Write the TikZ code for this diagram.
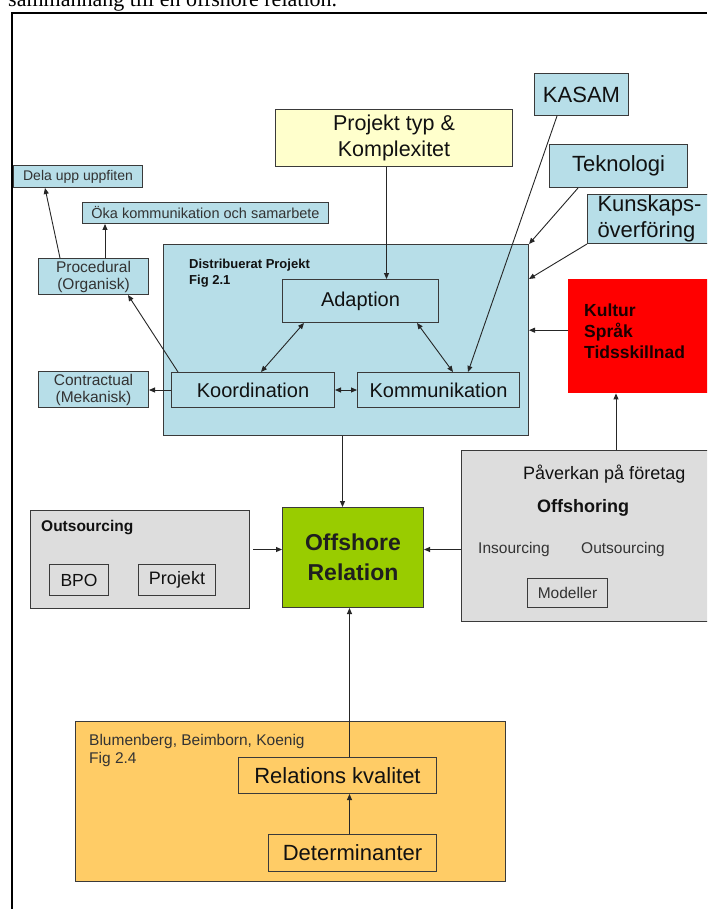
\documentclass[tikz,border=0pt]{standalone}
\usepackage{fontspec}
\setmainfont{Liberation Sans}
\newfontfamily\captionserif{Liberation Serif}
\usetikzlibrary{arrows.meta,calc}
\definecolor{lblue}{HTML}{B7DEE8}
\definecolor{lyellow}{HTML}{FFFFCC}
\definecolor{kred}{HTML}{FF0000}
\definecolor{offgreen}{HTML}{99CC00}
\definecolor{lgray}{HTML}{DDDDDD}
\definecolor{lorange}{HTML}{FFCC66}
\definecolor{edgegray}{HTML}{3A3A3A}
\definecolor{txtdark}{HTML}{111111}
\definecolor{txtsoft}{HTML}{333333}
\newcommand{\fsz}[2]{\fontsize{#1pt}{#2pt}\selectfont}
\tikzset{
  box/.style={draw=edgegray, line width=1pt, inner sep=0pt, anchor=north west,
    align=center, text=txtdark},
  label/.style={inner sep=0pt, align=left, text=txtdark},
  tip/.tip={Triangle[length=6pt,width=5pt]},
  arr/.style={-tip, line width=0.9pt, draw=black!85},
  darr/.style={tip-tip, line width=0.9pt, draw=black!85},
}
\begin{document}
\begin{tikzpicture}[x=1pt,y=-1pt]
\clip (0,0) rectangle (707,909);
\fill[white] (0,0) rectangle (707,909);

% caption line of the surrounding text, above the frame
\node[anchor=base west, inner sep=0pt, font=\captionserif\fsz{22}{26}] (caption) at (8,7)
  {sammanhang till en offshore relation.};

% figure frame
\draw[line width=2pt] (11.5,909) -- (11.5,13) -- (707,13);

% coordination mechanisms (left)
\node[box, fill=lblue, minimum width=129pt, minimum height=22pt, font=\fsz{14}{16}, text=txtsoft]
  (dela) at (13,165) {Dela upp uppfiten};
\node[box, fill=lblue, minimum width=246pt, minimum height=21pt, font=\fsz{14.5}{16}, text=txtsoft]
  (oka) at (82,202) {Öka kommunikation och samarbete};
\node[box, fill=lblue, minimum width=110pt, minimum height=36pt, font=\fsz{15.5}{17}, text=txtsoft]
  (proc) at (38,258) {Procedural\\(Organisk)};
\node[box, fill=lblue, minimum width=110pt, minimum height=36pt, font=\fsz{15.5}{17}, text=txtsoft]
  (contr) at (38,371) {Contractual\\(Mekanisk)};

% distributed project
\node[box, fill=lblue, minimum width=365pt, minimum height=191pt] (main) at (163,244) {};
\node[label, anchor=north west, font=\bfseries\fsz{13}{16}] (mainlbl) at (189,259)
  {Distribuerat Projekt\\Fig 2.1};
\node[box, fill=lblue, minimum width=156pt, minimum height=43pt, font=\fsz{20}{24}]
  (adapt) at (282,279) {Adaption};
\node[box, fill=lblue, minimum width=163pt, minimum height=35pt, font=\fsz{20}{24}]
  (koord) at (171,372) {Koordination};
\node[box, fill=lblue, minimum width=162pt, minimum height=35pt, font=\fsz{20}{24}]
  (komm) at (357,372) {Kommunikation};

% project type
\node[box, fill=lyellow, minimum width=237pt, minimum height=57pt, font=\fsz{21.5}{26}]
  (proj) at (275,109) {Projekt typ \&\\Komplexitet};

% influencing factors (right)
\node[box, fill=lblue, minimum width=94pt, minimum height=42pt, font=\fsz{22}{26}]
  (kasam) at (534,73) {KASAM};
\node[box, fill=lblue, minimum width=138pt, minimum height=43pt, font=\fsz{22}{26}]
  (tekn) at (549,144) {Teknologi};
\node[box, fill=lblue, minimum width=130pt, minimum height=49pt, font=\fsz{22}{26},
  align=left, text width=110pt, inner xsep=10pt]
  (kunsk) at (587,194) {Kunskaps-\\överföring};
\node[anchor=north west, inner sep=0pt, fill=kred, minimum width=150pt, minimum height=114pt]
  (kultur) at (568,279) {};
\node[label, anchor=west, font=\bfseries\fsz{17.5}{21}, text=black!90!red] (kulturtxt) at (584,331)
  {Kultur\\Språk\\Tidsskillnad};

% impact on companies
\node[box, fill=lgray, minimum width=260pt, minimum height=171pt] (pav) at (461,450) {};
\node[label, anchor=west, font=\fsz{18}{22}] (pavtxt) at (523,474) {Påverkan på företag};
\node[label, anchor=west, font=\bfseries\fsz{18}{22}] (offsh) at (537,508) {Offshoring};
\node[label, anchor=west, font=\fsz{15.5}{18}, text=txtsoft] (insrc) at (478,549) {Insourcing};
\node[label, anchor=west, font=\fsz{15.5}{18}, text=txtsoft] (outsrc) at (581,549) {Outsourcing};
\node[box, fill=lgray, minimum width=80pt, minimum height=29pt, font=\fsz{15.5}{18}, text=txtsoft]
  (modell) at (527,578) {Modeller};

% central relation
\node[box, fill=offgreen, minimum width=141pt, minimum height=100pt, font=\bfseries\fsz{23}{30},
  text=black!88] (off) at (282,507) {Offshore\\Relation};

% outsourcing
\node[box, fill=lgray, minimum width=219pt, minimum height=98pt] (outs) at (30,510) {};
\node[label, anchor=west, font=\bfseries\fsz{15.5}{18}] (outslbl) at (41,528) {Outsourcing};
\node[box, fill=lgray, minimum width=59pt, minimum height=31pt, font=\fsz{17.5}{21}]
  (bpo) at (49,564) {BPO};
\node[box, fill=lgray, minimum width=77pt, minimum height=31pt, font=\fsz{18}{21}]
  (projb) at (138,564) {Projekt};

% relationship quality
\node[box, fill=lorange, minimum width=430pt, minimum height=160pt] (orange) at (75,721) {};
\node[label, anchor=north west, font=\fsz{15.5}{18}, text=txtsoft] (orlbl) at (89,734)
  {Blumenberg, Beimborn, Koenig\\Fig 2.4};
\node[box, fill=lorange, minimum width=198pt, minimum height=36pt, font=\fsz{22}{26}]
  (relk) at (238,757) {Relations kvalitet};
\node[box, fill=lorange, minimum width=168pt, minimum height=37pt, font=\fsz{22}{26}]
  (det) at (268,834) {Determinanter};

% connector end points
\coordinate (pjB) at ($(proj.south)+(-7.5,0)$);
\coordinate (adSW) at ($(adapt.south west)+(22,0)$);
\coordinate (adSE) at ($(adapt.south west)+(135,0)$);
\coordinate (koN) at ($(koord.north west)+(90,0)$);
\coordinate (kmN) at ($(komm.north west)+(96,0)$);
\coordinate (kmK) at ($(komm.north west)+(111,0)$);
\coordinate (koL) at ($(koord.north west)+(7,0)$);
\coordinate (prS) at ($(proc.south west)+(90,0)$);
\coordinate (prA) at ($(proc.north west)+(22,0)$);
\coordinate (prB) at ($(proc.north west)+(67,0)$);
\coordinate (deS) at ($(dela.south west)+(32,0)$);
\coordinate (kaS) at ($(kasam.south west)+(23,0)$);
\coordinate (teS) at ($(tekn.south west)+(29,0)$);
\coordinate (maR) at ($(main.north east)+(0,35)$);
\coordinate (kuW) at ($(kultur.west)+(0,-6)$);
\coordinate (paN) at ($(pav.north west)+(155,0)$);
\coordinate (ofE) at ($(off.east)+(0,-8)$);
\coordinate (ofW) at ($(off.west)+(0,-8)$);
\coordinate (maS) at ($(main.south)+(-3.5,0)$);
\coordinate (ofS) at ($(off.south)+(-3.5,0)$);
\coordinate (deN) at ($(det.north)+(-3,0)$);

% connectors
\draw[arr] (pjB) -- (pjB |- adapt.north);
\draw[darr] (adSW) -- (koN);
\draw[darr] (adSE) -- (kmN);
\draw[darr] (koord.east) -- (komm.west);
\draw[arr] (koL) -- (prS);
\draw[arr] (koord.west) -- (koord.west -| contr.east);
\draw[arr] (prA) -- (deS);
\draw[arr] (prB) -- (prB |- oka.south);
\draw[arr] (kaS) -- (kmK);
\draw[arr] (teS) -- (main.north east);
\draw[arr] (kunsk.south west) -- (maR);
\draw[arr] (kuW) -- (kuW -| main.east);
\draw[arr] (paN) -- (paN |- kultur.south);
\draw[arr] (ofE -| pav.west) -- (ofE);
\draw[arr] ($(ofW -| outs.east)+(3,0)$) -- (ofW);
\draw[arr] (maS) -- (maS |- off.north);
\draw[arr] (ofS |- relk.north) -- (ofS);
\draw[arr] (deN) -- (deN |- relk.south);
\end{tikzpicture}
\end{document}
